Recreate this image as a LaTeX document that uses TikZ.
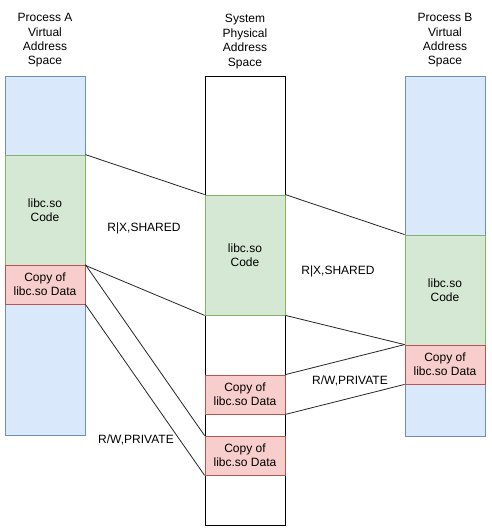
\documentclass[tikz,border=0pt]{standalone}
\usepackage{fontspec}
\setmainfont{Liberation Sans}
\definecolor{bfill}{HTML}{DAE8FC}\definecolor{bdraw}{HTML}{6C8EBF}
\definecolor{gfill}{HTML}{D5E8D4}\definecolor{gdraw}{HTML}{82B366}
\definecolor{rfill}{HTML}{F8CECC}\definecolor{rdraw}{HTML}{B85450}
\begin{document}
\begin{tikzpicture}[x=1pt,y=-1pt,
  seg/.style={rectangle,inner sep=0pt,minimum width=80pt,line width=0.8pt,align=center,font=\fontsize{12}{14.4}\selectfont},
  bluebox/.style={seg,fill=bfill,draw=bdraw},
  greenbox/.style={seg,fill=gfill,draw=gdraw},
  redbox/.style={seg,fill=rfill,draw=rdraw},
  physbox/.style={seg,fill=white,draw=black},
  lbl/.style={align=center,inner sep=0pt,font=\fontsize{12}{14.4}\selectfont},
  conn/.style={draw=black!85,line width=0.8pt}]
\useasboundingbox[fill=white] (0,0) rectangle (491,531);
% titles
\node[lbl] (ta) at (45,40.5) {Process A\\Virtual\\Address\\Space};
\node[lbl] (ts) at (245,41.5) {System\\Physical\\Address\\Space};
\node[lbl] (tb) at (445,40.5) {Process B\\Virtual\\Address\\Space};
% columns
\node[bluebox,minimum height=359pt] (acol) at (45,255.5) {};
\node[physbox,minimum height=449pt] (scol) at (245,300.5) {};
\node[bluebox,minimum height=360pt] (bcol) at (445,256) {};
% segments A
\node[greenbox,minimum height=110pt] (acode) at (45,210) {libc.so\\Code};
\node[redbox,minimum height=39pt] (adata) at (45,284.5) {Copy of\\libc.so Data};
% segments system
\node[greenbox,minimum height=120pt] (scode) at (245,255) {libc.so\\Code};
\node[redbox,minimum height=39pt] (sdata1) at (245,394.5) {Copy of\\libc.so Data};
\node[redbox,minimum height=39pt] (sdata2) at (245,455.5) {Copy of\\libc.so Data};
% segments B
\node[greenbox,minimum height=110pt] (bcode) at (445,290) {libc.so\\Code};
\node[redbox,minimum height=39pt] (bdata) at (445,364.5) {Copy of\\libc.so Data};
% connectors
\draw[conn] (acode.north east) -- (scode.north west);
\draw[conn] (acode.south east) -- (scode.south west);
\draw[conn] (adata.north east) -- (sdata2.north west);
\draw[conn] (adata.south east) -- (sdata2.south west);
\draw[conn] (scode.north east) -- (bcode.north west);
\draw[conn] (scode.south east) -- (bdata.north west);
\draw[conn] (sdata1.north east) -- (bdata.north west);
\draw[conn] (sdata1.south east) -- (bdata.south west);
% labels
\node[lbl] (l1) at (144,228) {R|X,SHARED};
\node[lbl] (l2) at (338,271) {R|X,SHARED};
\node[lbl] (l3) at (136,440) {R/W,PRIVATE};
\node[lbl] (l4) at (350,381) {R/W,PRIVATE};
\end{tikzpicture}
\end{document}
